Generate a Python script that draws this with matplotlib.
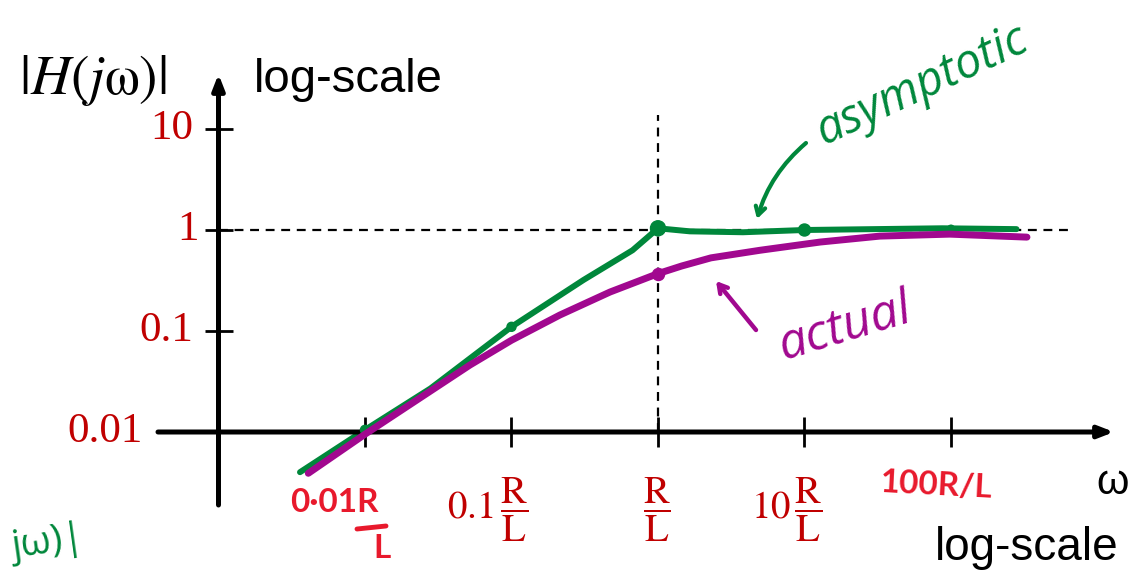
import numpy as np
import matplotlib.pyplot as plt

plt.rcParams['mathtext.fontset'] = 'stix'

# pixel -> data helpers (omega in units of R/L, |H| on log scale)
W, H = 1144, 572
def w_at(px):
    return 10 ** ((px - 658) / 146.5)
def h_at(py):
    return 10 ** ((230 - py) / 101)

# data
asym_w = [0.0036, 0.01, 0.028, 0.1, 0.31, 0.67, 1.0, 1.65, 3.8, 10, 87, 280]
asym_h = [0.004, 0.0105, 0.027, 0.11, 0.32, 0.63, 1.04, 0.97, 0.95, 1.0, 1.04, 1.02]
asym_dot_w = [0.01, 0.1, 1, 10, 100]
asym_dot_h = [0.0105, 0.11, 1.04, 1.0, 1.03]
asym_dot_s = [9, 9, 15, 12, 7]

actual_w = [0.0041, 0.01, 0.0237, 0.052, 0.1, 0.214, 0.47, 1.0, 1.45, 2.3, 4.97, 12.8, 32.7, 98, 330]
actual_h = [0.0039, 0.0095, 0.0217, 0.046, 0.081, 0.144, 0.243, 0.37, 0.44, 0.53, 0.63, 0.76, 0.87, 0.91, 0.85]

ytick_vals = [10, 1, 0.1]
ytick_labels = ['10', '1', '0.1', '0.01']
xtick_vals = [0.01, 0.1, 1, 10, 100]

GREEN = '#00873b'
PURPLE = '#a1088f'
RED = '#c00000'
HAND_RED = '#e8192c'

fig = plt.figure(figsize=(11.44, 5.72), dpi=100)
ax = fig.add_axes([0, 0, 1, 1])
ax.set_xscale('log')
ax.set_yscale('log')
ax.set_xlim(w_at(0), w_at(W))
ax.set_ylim(h_at(H), h_at(0))
ax.axis('off')

# axes with arrows
ax.annotate('', xy=(1e-3, h_at(74)), xytext=(1e-3, h_at(505)),
            arrowprops=dict(arrowstyle='-|>,head_length=0.9,head_width=0.35', lw=3.6, color='k',
                            shrinkA=0, shrinkB=0))
ax.annotate('', xy=(w_at(1114), 0.01), xytext=(w_at(158), 0.01),
            arrowprops=dict(arrowstyle='-|>,head_length=0.9,head_width=0.35', lw=3.6, color='k',
                            shrinkA=0, shrinkB=0))

# ticks
ax.plot([1e-3] * len(ytick_vals), ytick_vals, ls='none', marker='_', ms=20, mew=2.0, color='k')
ax.plot(xtick_vals, [0.01] * len(xtick_vals), ls='none', marker='|', ms=21, mew=2.0, color='k')

# dashed guides
ax.plot([1e-3, w_at(1068)], [1, 1], color='k', lw=1.6, ls=(0, (4, 3)))
ax.plot([1, 1], [0.01, h_at(115)], color='k', lw=1.6, ls=(0, (4, 3)))

# curves
ax.plot(asym_w, asym_h, color=GREEN, lw=4.3, solid_capstyle='round', solid_joinstyle='round')
ax.scatter(asym_dot_w, asym_dot_h, s=np.array(asym_dot_s) ** 2 * 0.52, color=GREEN, zorder=3)
ax.plot(actual_w, actual_h, color=PURPLE, lw=5, solid_capstyle='round', solid_joinstyle='round', zorder=4)
ax.scatter([1], [0.37], s=12 ** 2 * 0.52, color=PURPLE, zorder=5)

# y tick labels
for v, lab in zip(ytick_vals + [0.01], ytick_labels):
    xr = 143 if v == 0.01 else (199 if v == 1 else 193)
    ax.text(w_at(xr), v, lab, ha='right', va='center', color=RED,
            family='Liberation Serif', fontsize=31)

# x tick labels
ax.text(w_at(488), h_at(510), r'$0.1\,\dfrac{\mathrm{R}}{\mathrm{L}}$', ha='center', va='center',
        color=RED, fontsize=28)
ax.text(w_at(657), h_at(510), r'$\dfrac{\mathrm{R}}{\mathrm{L}}$', ha='center', va='center',
        color=RED, fontsize=28)
ax.text(w_at(787), h_at(510), r'$10\,\dfrac{\mathrm{R}}{\mathrm{L}}$', ha='center', va='center',
        color=RED, fontsize=28)
ax.text(w_at(334), h_at(502), '0·01R', ha='center', va='center', color=HAND_RED,
        fontsize=24, fontweight='bold', family='Lato')
ax.plot([w_at(357), w_at(386)], [h_at(529), h_at(526)], color=HAND_RED, lw=3.5,
        solid_capstyle='round')
ax.text(w_at(382), h_at(549), 'L', ha='center', va='center', color=HAND_RED,
        fontsize=24, fontweight='bold', family='Lato')
ax.text(w_at(937), h_at(485), '100R/L', ha='center', va='center', color=HAND_RED,
        fontsize=24, fontweight='bold', family='Lato', rotation=-3)

# axis titles
ax.text(w_at(93), h_at(80), r'$|H(j\mathrm{\omega})|$', ha='center', va='center', fontsize=40)
ax.text(w_at(348), h_at(80), 'log-scale', ha='center', va='center', fontsize=34,
        family='Liberation Sans')
ax.text(w_at(1113), h_at(483), 'ω', ha='center', va='center', fontsize=30,
        family='Liberation Sans')
ax.text(w_at(1027), h_at(548), 'log-scale', ha='center', va='center', fontsize=33,
        family='Liberation Sans')

# handwritten notes
ax.text(w_at(922), h_at(85), 'asymptotic', ha='center', va='center', color=GREEN,
        fontsize=34, style='italic', family='Open Sans', rotation=25)
ax.annotate('', xy=(w_at(757), h_at(219)), xytext=(w_at(806), h_at(143)),
            arrowprops=dict(arrowstyle='->,head_length=0.6,head_width=0.35', lw=3, color=GREEN,
                            connectionstyle='arc3,rad=0.15', shrinkA=0, shrinkB=0))
ax.text(w_at(845), h_at(328), 'actual', ha='center', va='center', color=PURPLE,
        fontsize=36, style='italic', family='Open Sans', rotation=17)
ax.annotate('', xy=(w_at(716), h_at(281)), xytext=(w_at(756), h_at(330)),
            arrowprops=dict(arrowstyle='->,head_length=0.6,head_width=0.35', lw=3.2, color=PURPLE,
                            shrinkA=0, shrinkB=0))
ax.text(w_at(48), h_at(543), 'jω)|', ha='center', va='center', color=GREEN,
        fontsize=28, family='Open Sans', rotation=8)

fig.savefig('out.png', dpi=100)
